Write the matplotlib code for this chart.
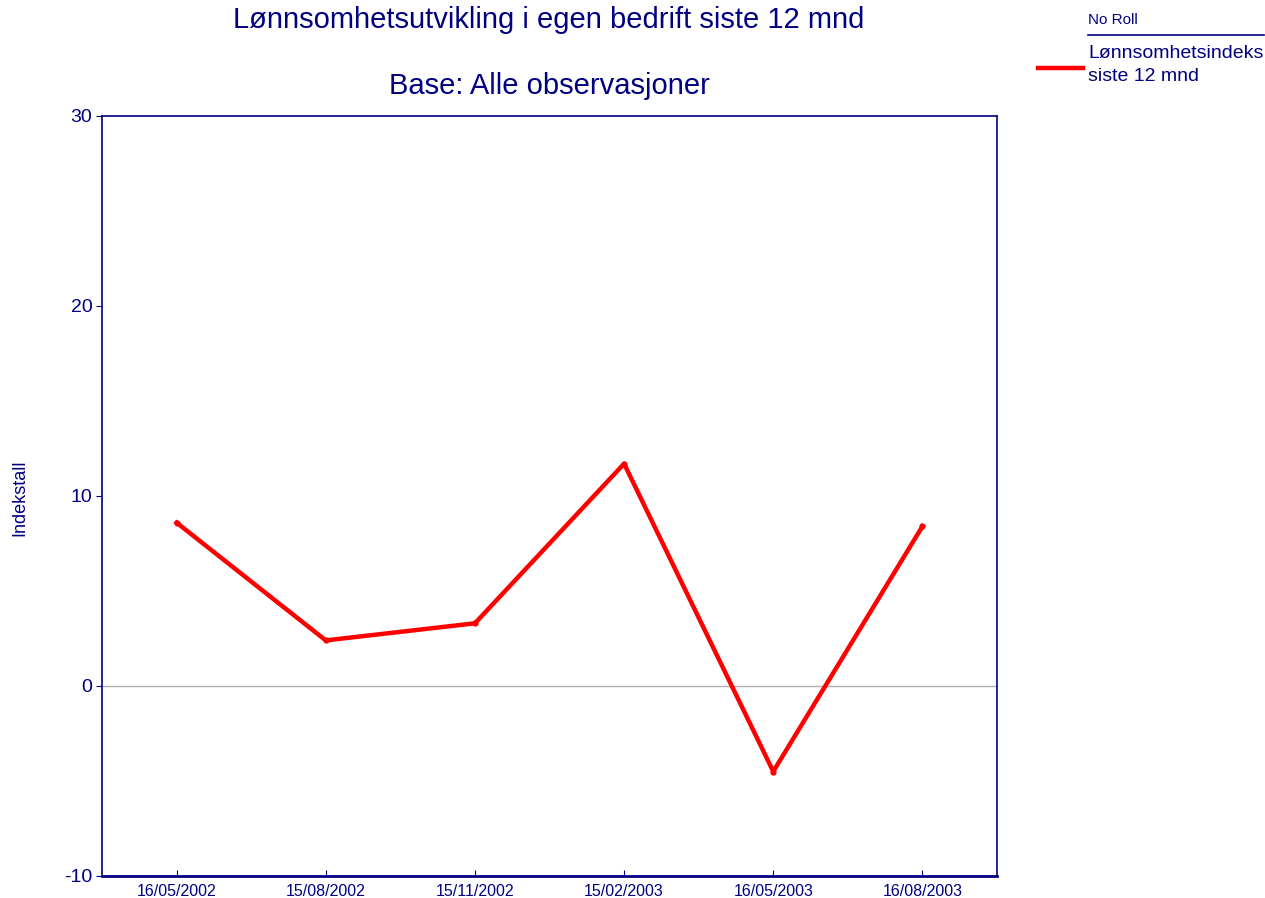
import matplotlib
matplotlib.use('Agg')
import matplotlib.pyplot as plt

plt.rcParams['font.family'] = ['Liberation Sans', 'DejaVu Sans']

navy = '#000080'

# data
dates = ['16/05/2002', '15/08/2002', '15/11/2002', '15/02/2003', '16/05/2003', '16/08/2003']
index_values = [8.6, 2.4, 3.3, 11.7, -4.5, 8.4]
y_ticks = [-10, 0, 10, 20, 30]

fig = plt.figure(figsize=(12.65, 8.98), dpi=100)
ax = fig.add_axes([102 / 1265, 1 - 876 / 898, 895 / 1265, 760 / 898])

x = list(range(len(dates)))
ax.axhline(0, color='#b0b0b0', linewidth=1, zorder=1)
ax.plot(x, index_values, color='#ff0000', linewidth=3.2, marker='o',
        markersize=3.5, solid_joinstyle='round', zorder=3)

ax.set_xlim(-0.5, len(dates) - 0.5)
ax.set_ylim(-10, 30)
ax.set_yticks(y_ticks)
ax.set_yticklabels([str(v) for v in y_ticks], fontsize=14, color=navy)
ax.set_xticks(x)
ax.set_xticklabels(dates, fontsize=11.5, color=navy)
ax.tick_params(axis='y', direction='out', length=4, color=navy, pad=3)
ax.tick_params(axis='x', direction='in', length=4, color=navy, pad=6)

for side in ['left', 'right', 'top']:
    ax.spines[side].set_color(navy)
    ax.spines[side].set_linewidth(1.2)
ax.spines['bottom'].set_color(navy)
ax.spines['bottom'].set_linewidth(2)

fig.text(20 / 1265, 1 - 498 / 898, 'Indekstall', rotation=90, ha='center', va='center',
         fontsize=13, color=navy)

fig.text(549 / 1265, 1 - 20 / 898, 'Lønnsomhetsutvikling i egen bedrift siste 12 mnd',
         ha='center', va='center', fontsize=21, color=navy)
fig.text(549 / 1265, 1 - 86 / 898, 'Base: Alle observasjoner',
         ha='center', va='center', fontsize=21, color=navy)

# legend drawn by hand to mimic the original layout
fig.text(1088 / 1265, 1 - 20 / 898, 'No Roll', ha='left', va='center', fontsize=11, color=navy)
fig.add_artist(plt.Line2D([1088 / 1265, 1264 / 1265], [1 - 35 / 898, 1 - 35 / 898],
                          color=navy, linewidth=1.2, transform=fig.transFigure))
fig.text(1088 / 1265, 1 - 65 / 898, 'Lønnsomhetsindeks\nsiste 12 mnd', ha='left', va='center',
         fontsize=14, color=navy, linespacing=1.4)
fig.add_artist(plt.Line2D([1038 / 1265, 1083 / 1265], [1 - 68 / 898, 1 - 68 / 898],
                          color='#ff0000', linewidth=3.2, transform=fig.transFigure))

fig.savefig('out.png', dpi=100)
